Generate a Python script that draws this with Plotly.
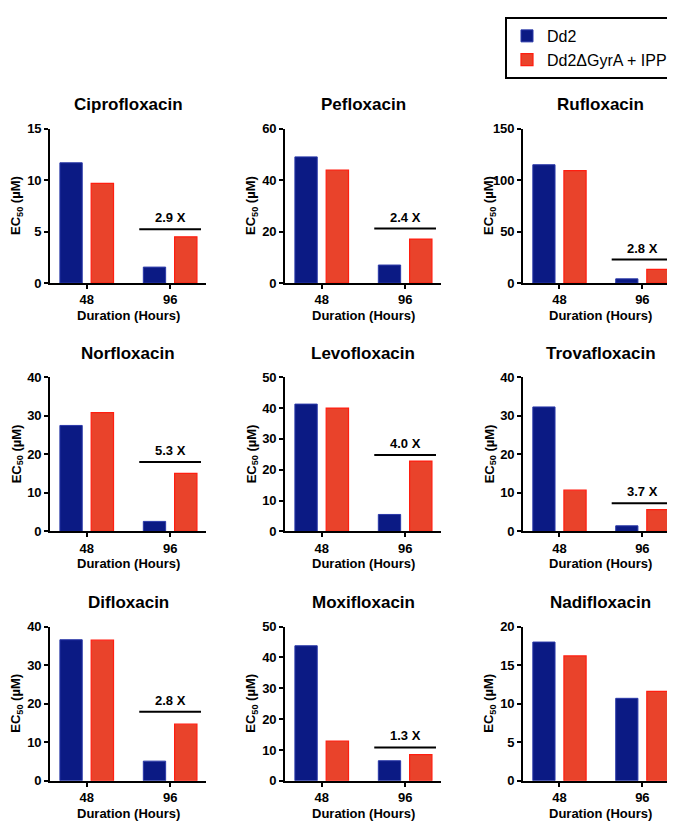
import plotly.graph_objects as go
from plotly.subplots import make_subplots

# ---- data ----
drugs = ["Ciprofloxacin", "Pefloxacin", "Rufloxacin",
         "Norfloxacin", "Levofloxacin", "Trovafloxacin",
         "Difloxacin", "Moxifloxacin", "Nadifloxacin"]
durations = ["48", "96"]
dd2_48 = [11.7, 49.1, 115.1, 27.5, 41.3, 32.3, 36.6, 43.8, 18.0]
dd2_96 = [1.55, 7.0, 4.1, 2.6, 5.5, 1.45, 5.1, 6.5, 10.7]
gyra_48 = [9.7, 44.0, 109.4, 30.8, 40.0, 10.7, 36.5, 12.9, 16.2]
gyra_96 = [4.5, 17.1, 13.3, 15.05, 22.8, 5.67, 14.7, 8.5, 11.6]
y_max = [15, 60, 150, 40, 50, 40, 40, 50, 20]
y_step = [5, 20, 50, 10, 10, 10, 10, 10, 5]
fold_labels = ["2.9 X", "2.4 X", "2.8 X", "5.3 X", "4.0 X", "3.7 X", "2.8 X", "1.3 X", None]
fold_line_y = [5.23, 21.2, 22.8, 18.0, 24.8, 7.3, 17.9, 10.8, None]
series_names = ["Dd2", "Dd2\u0394GyrA + IPP"]

# ---- style ----
W, H = 675, 823
FONT = "Liberation Sans, Arial, Helvetica, sans-serif"
BLUE, BLUE_EDGE = "#0b1a84", "#2a38a8"
RED, RED_EDGE = "#e9432b", "#ff1e10"
col_px = [(42, 198), (277, 433), (515, 670)]
row_px = [(116, 273), (369, 526), (623, 780)]

fig = make_subplots(rows=3, cols=3)

annotations = []
shapes = []
for i, name in enumerate(drugs):
    r, c = i // 3 + 1, i % 3 + 1
    fig.add_trace(go.Bar(x=durations, y=[dd2_48[i], dd2_96[i]], name=series_names[0],
                         marker=dict(color=BLUE, line=dict(color=BLUE_EDGE, width=1)),
                         showlegend=(i == 0), legendgroup="a"), row=r, col=c)
    fig.add_trace(go.Bar(x=durations, y=[gyra_48[i], gyra_96[i]], name=series_names[1],
                         marker=dict(color=RED, line=dict(color=RED_EDGE, width=1.2)),
                         showlegend=(i == 0), legendgroup="b"), row=r, col=c)
    x0p, x1p = col_px[c - 1]
    y0p, y1p = row_px[r - 1]
    xd = [x0p / W, x1p / W]
    yd = [1 - y1p / H, 1 - y0p / H]
    sfx = "" if i == 0 else str(i + 1)
    fig.layout["xaxis" + sfx].update(domain=xd)
    fig.layout["yaxis" + sfx].update(domain=yd)
    fig.update_xaxes(row=r, col=c, type="category", range=[-0.44, 1.43],
                     showline=True, linecolor="black", linewidth=1.6,
                     ticks="outside", ticklen=4, tickwidth=1.6, tickcolor="black",
                     showgrid=False, zeroline=False,
                     tickfont=dict(family=FONT, size=13, color="black", weight="bold"))
    fig.update_yaxes(row=r, col=c, range=[0, y_max[i]], dtick=y_step[i], tick0=0,
                     showline=True, linecolor="black", linewidth=1.6,
                     ticks="outside", ticklen=4, tickwidth=1.6, tickcolor="black",
                     showgrid=False, zeroline=False,
                     tickfont=dict(family=FONT, size=13, color="black", weight="bold"))
    xm = (xd[0] + xd[1]) / 2
    # panel title
    annotations.append(dict(text=name, x=xm, y=yd[1], xref="paper", yref="paper",
                            xanchor="center", yanchor="middle", yshift=24, showarrow=False,
                            font=dict(family=FONT, size=17, color="black", weight="bold")))
    # x axis title
    annotations.append(dict(text="Duration (Hours)", x=xm, y=yd[0], xref="paper", yref="paper",
                            xanchor="center", yanchor="top", yshift=-23, showarrow=False,
                            font=dict(family=FONT, size=13, color="black", weight="bold")))
    # y axis title
    annotations.append(dict(text="EC<sub>50</sub> (\u00b5M)", x=xd[0], y=(yd[0] + yd[1]) / 2,
                            xref="paper", yref="paper", xanchor="center", yanchor="middle",
                            xshift=-33, textangle=-90, showarrow=False,
                            font=dict(family=FONT, size=13, color="black", weight="bold")))
    if fold_labels[i]:
        xr = "x" + sfx
        yr = "y" + sfx
        shapes.append(dict(type="line", xref=xr, yref=yr, x0=0.63, x1=1.37,
                           y0=fold_line_y[i], y1=fold_line_y[i],
                           line=dict(color="black", width=2)))
        annotations.append(dict(text=fold_labels[i], x=1, y=fold_line_y[i], xref=xr, yref=yr,
                                xanchor="center", yanchor="bottom", yshift=2, showarrow=False,
                                font=dict(family=FONT, size=13, color="black", weight="bold")))

fig.update_layout(
    width=W, height=H,
    margin=dict(l=0, r=0, t=0, b=0),
    paper_bgcolor="white", plot_bgcolor="white",
    barmode="group", bargap=0.25, bargroupgap=0.286,
    annotations=annotations, shapes=shapes,
    legend=dict(x=666 / W, y=1 - 2 / H, xanchor="right", yanchor="top",
                bordercolor="black", borderwidth=2, bgcolor="white",
                font=dict(family=FONT, size=16, color="black"),
                itemwidth=30, tracegroupgap=0),
    font=dict(family=FONT, color="black"),
)

fig.write_html("out.html")
